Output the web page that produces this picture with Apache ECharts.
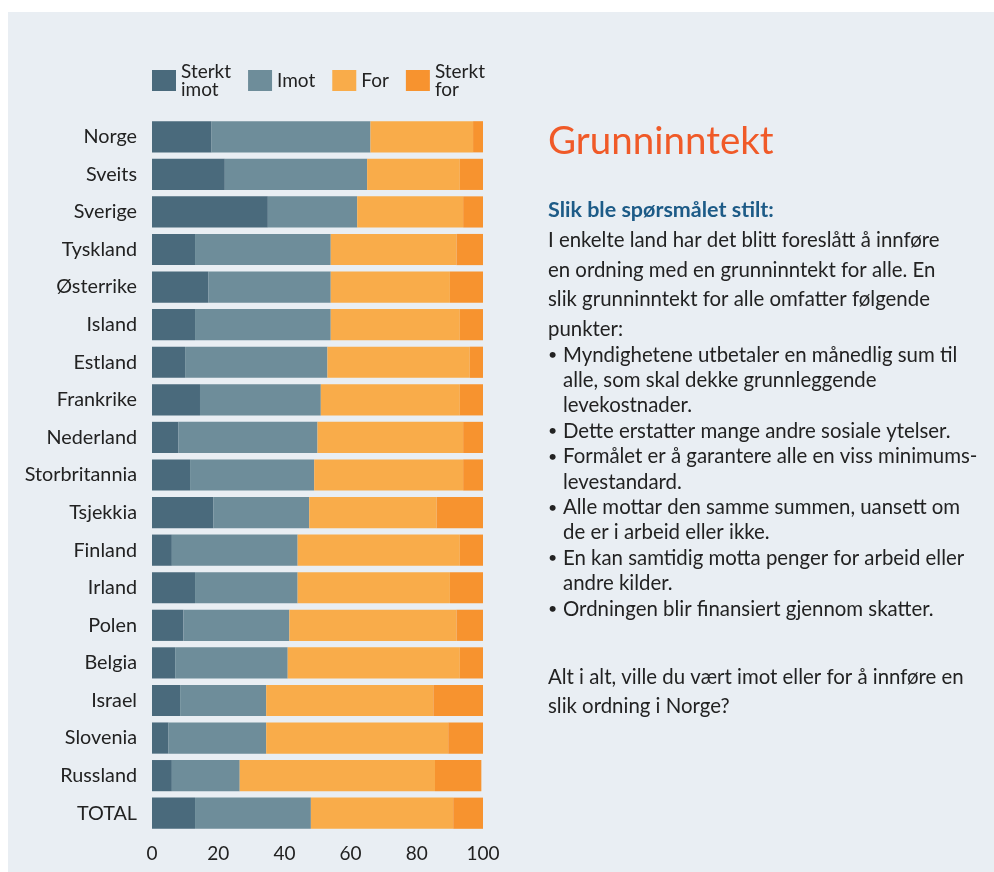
<!DOCTYPE html>
<html lang="no">
<head>
  <meta charset="UTF-8">
  <title>Grunninntekt</title>
  <style>
    html, body { margin: 0; padding: 0; background: #fff; }
    #main { width: 994px; height: 872px; }
  </style>
</head>
<body>
<div id="main"></div>

<script src="https://cdn.jsdelivr.net/npm/echarts@6/dist/echarts.min.js"></script>

<script>
  var countries = ['Norge', 'Sveits', 'Sverige', 'Tyskland', 'Østerrike', 'Island', 'Estland',
    'Frankrike', 'Nederland', 'Storbritannia', 'Tsjekkia', 'Finland', 'Irland', 'Polen',
    'Belgia', 'Israel', 'Slovenia', 'Russland', 'TOTAL']

  var sterktImot = [18, 22, 35, 13, 17, 13, 10, 14.5, 8, 11.5, 18.5, 6, 13, 9.5, 7, 8.5, 5, 6, 13]
  var imot = [48, 43, 27, 41, 37, 41, 43, 36.5, 42, 37.5, 29, 38, 31, 32, 34, 26, 29.5, 20.5, 35]
  var forr = [31, 28, 32, 38, 36, 39, 43, 42, 44, 45, 38.5, 49, 46, 50.5, 52, 50.5, 55, 59, 43]
  var sterktFor = [3, 7, 6, 8, 10, 7, 4, 7, 6, 6, 14, 7, 10, 8, 7, 15, 10.5, 14, 9]

  var xTicks = [0, 20, 40, 60, 80, 100]

  var paragraph = [
    'I enkelte land har det blitt foreslått å innføre',
    'en ordning med en grunninntekt for alle. En',
    'slik grunninntekt for alle omfatter følgende',
    'punkter:'
  ]
  var bullets = [
    ['Myndighetene utbetaler en månedlig sum til', 'alle, som skal dekke grunnleggende', 'levekostnader.'],
    ['Dette erstatter mange andre sosiale ytelser.'],
    ['Formålet er å garantere alle en viss minimums-', 'levestandard.'],
    ['Alle mottar den samme summen, uansett om', 'de er i arbeid eller ikke.'],
    ['En kan samtidig motta penger for arbeid eller', 'andre kilder.'],
    ['Ordningen blir finansiert gjennom skatter.']
  ]
  var question = ['Alt i alt, ville du vært imot eller for å innføre en', 'slik ordning i Norge?']

  var font = 'Lato, "Noto Sans", sans-serif'
  var textColor = '#222'
  var bodySize = 20.4

  var bulletLines = []
  var dotLines = []
  bullets.forEach(function (b) {
    b.forEach(function (line, i) {
      bulletLines.push(line)
      dotLines.push(i === 0 ? '•' : ' ')
    })
  })

  var chart = echarts.init(document.getElementById('main'), null, { renderer: 'canvas' })

  function bar(name, data, color) {
    return {
      name: name,
      type: 'bar',
      stack: 'total',
      barCategoryGap: '17%',
      itemStyle: { color: color },
      data: data
    }
  }

  var option = {
    backgroundColor: '#fff',
    animation: false,
    textStyle: { fontFamily: font },
    legend: {
      left: 152,
      top: 62,
      padding: 0,
      itemWidth: 24,
      itemHeight: 21,
      itemGap: 17,
      icon: 'rect',
      formatter: function (n) { return n.replace(' ', '\n') },
      textStyle: { fontSize: 19, lineHeight: 18, color: textColor, fontFamily: font }
    },
    grid: { left: 152, right: 511, top: 118, bottom: 40 },
    xAxis: {
      type: 'value',
      min: xTicks[0],
      max: xTicks[xTicks.length - 1],
      interval: 20,
      splitLine: { show: false },
      axisLine: { show: false },
      axisTick: { show: false },
      axisLabel: { fontSize: 19, color: textColor, margin: 12, fontFamily: font }
    },
    yAxis: {
      type: 'category',
      inverse: true,
      data: countries,
      axisLine: { show: false },
      axisTick: { show: false },
      axisLabel: { fontSize: 19.8, color: textColor, margin: 15, fontFamily: font }
    },
    series: [
      bar('Sterkt imot', sterktImot, '#4a6a7c'),
      bar('Imot', imot, '#6e8d9a'),
      bar('For', forr, '#f9ac4a'),
      bar('Sterkt for', sterktFor, '#f7932f')
    ],
    graphic: [
      {
        type: 'rect', z: -100, silent: true,
        shape: { x: 8, y: 12, width: 994, height: 872 },
        style: { fill: '#e9eef3' }
      },
      {
        type: 'text', x: 548, y: 142,
        style: { text: 'Grunninntekt', fontSize: 38.5, fontFamily: font, fill: '#f05a28', verticalAlign: 'middle' }
      },
      {
        type: 'text', x: 548, y: 210,
        style: { text: 'Slik ble spørsmålet stilt:', fontSize: 21.5, fontWeight: 'bold', fontFamily: font, fill: '#1d5b87', verticalAlign: 'middle' }
      },
      {
        type: 'text', x: 548, y: 226,
        style: { text: paragraph.join('\n'), fontSize: bodySize, lineHeight: 29.5, fontFamily: font, fill: textColor, verticalAlign: 'top' }
      },
      {
        type: 'text', x: 548, y: 342.3,
        style: { text: dotLines.join('\n'), fontSize: 16, lineHeight: 25.4, fontFamily: font, fill: textColor, verticalAlign: 'top' }
      },
      {
        type: 'text', x: 563, y: 342.3,
        style: { text: bulletLines.join('\n'), fontSize: bodySize, lineHeight: 25.4, fontFamily: font, fill: textColor, verticalAlign: 'top' }
      },
      {
        type: 'text', x: 548, y: 662.5,
        style: { text: question.join('\n'), fontSize: bodySize, lineHeight: 29, fontFamily: font, fill: textColor, verticalAlign: 'top' }
      }
    ]
  }

  chart.setOption(option)
  window.addEventListener('resize', chart.resize)
</script>
</body>
</html>
